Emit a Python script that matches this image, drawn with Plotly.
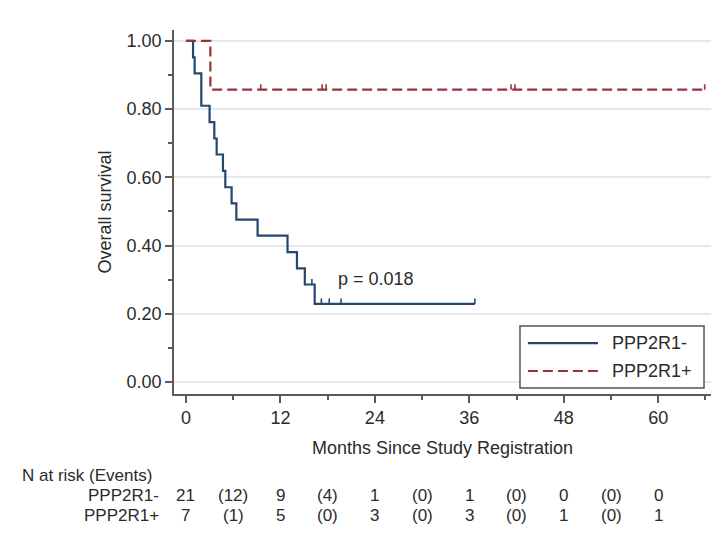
import plotly.graph_objects as go

# ---- data ----
neg_name = "PPP2R1-"
pos_name = "PPP2R1+"

# Kaplan-Meier step points (month, survival after step)
neg_times = [0, 0.9, 1.1, 1.95, 3.0, 3.6, 3.9, 4.7, 5.0, 5.8, 6.4, 9.1, 12.9, 14.1, 15.1, 16.35, 36.7]
neg_surv = [1.0, 0.952, 0.905, 0.810, 0.762, 0.714, 0.667, 0.619, 0.571, 0.524, 0.476, 0.429, 0.381, 0.333, 0.286, 0.229, 0.229]
neg_censor_t = [16.0, 17.2, 18.2, 19.7, 36.7]
neg_censor_s = [0.286, 0.229, 0.229, 0.229, 0.229]

pos_times = [0, 3.1, 65.9]
pos_surv = [1.0, 0.857, 0.857]
pos_censor_t = [9.5, 17.3, 17.8, 41.3, 41.8, 65.9]
pos_censor_s = [0.857, 0.857, 0.857, 0.857, 0.857, 0.857]

# number at risk table
risk_months = [0, 12, 24, 36, 48, 60]
event_months = [6, 18, 30, 42, 54]
neg_at_risk = [21, 9, 1, 1, 0, 0]
neg_events = [12, 4, 0, 0, 0]
pos_at_risk = [7, 5, 3, 3, 1, 1]
pos_events = [1, 0, 0, 0, 0]

p_text = "p = 0.018"
x_ticks = [0, 12, 24, 36, 48, 60]
y_ticks = [0.0, 0.2, 0.4, 0.6, 0.8, 1.0]

# ---- styling ----
BLUE = "#24476f"
RED = "#9b3039"
TXT = "#2b2b2b"
AX = "#5a5a5a"
FONT = "Liberation Sans, Arial, sans-serif"
FS = 18
FS_TAB = 17
CENSOR_H = 0.016
DASH = "10px,5px"

fig = go.Figure()

fig.add_trace(go.Scatter(
    x=neg_times, y=neg_surv, mode="lines", line_shape="hv",
    line=dict(color=BLUE, width=2.2), name=neg_name, showlegend=False))
fig.add_trace(go.Scatter(
    x=neg_censor_t, y=neg_censor_s, mode="markers",
    marker=dict(size=1, color="rgba(0,0,0,0)"),
    error_y=dict(type="data", symmetric=False, array=[CENSOR_H] * len(neg_censor_t),
                 arrayminus=[0] * len(neg_censor_t), width=0, thickness=1.6, color=BLUE),
    showlegend=False, hoverinfo="skip"))

fig.add_trace(go.Scatter(
    x=pos_times, y=pos_surv, mode="lines", line_shape="hv",
    line=dict(color=RED, width=2.2, dash=DASH), name=pos_name, showlegend=False))
fig.add_trace(go.Scatter(
    x=pos_censor_t, y=pos_censor_s, mode="markers",
    marker=dict(size=1, color="rgba(0,0,0,0)"),
    error_y=dict(type="data", symmetric=False, array=[CENSOR_H] * len(pos_censor_t),
                 arrayminus=[0] * len(pos_censor_t), width=0, thickness=1.6, color=RED),
    showlegend=False, hoverinfo="skip"))

annotations = []
# p value
annotations.append(dict(x=19.1, y=0.302, xref="x", yref="y", text=p_text, showarrow=False,
                        xanchor="left", yanchor="middle", font=dict(size=FS, color=TXT, family=FONT)))

# Number at risk table (paper y = (386 - pixel_y) / 364)
ROW_HDR = -0.223
ROW_NEG = -0.280
ROW_POS = -0.335
annotations.append(dict(x=-0.287, y=ROW_HDR, xref="paper", yref="paper", text="N at risk (Events)",
                        showarrow=False, xanchor="left", yanchor="middle",
                        font=dict(size=FS_TAB, color=TXT, family=FONT)))
for name, yy in [(neg_name, ROW_NEG), (pos_name, ROW_POS)]:
    annotations.append(dict(x=-0.024, y=yy, xref="paper", yref="paper", text=name,
                            showarrow=False, xanchor="right", yanchor="middle",
                            font=dict(size=FS_TAB, color=TXT, family=FONT)))
for rows, yy in [((neg_at_risk, neg_events), ROW_NEG), ((pos_at_risk, pos_events), ROW_POS)]:
    at_risk, events = rows
    for m, v in zip(risk_months, at_risk):
        annotations.append(dict(x=m, y=yy, xref="x", yref="paper", text=str(v), showarrow=False,
                                xanchor="center", yanchor="middle",
                                font=dict(size=FS_TAB, color=TXT, family=FONT)))
    for m, v in zip(event_months, events):
        annotations.append(dict(x=m, y=yy, xref="x", yref="paper", text=f"({v})", showarrow=False,
                                xanchor="center", yanchor="middle",
                                font=dict(size=FS_TAB, color=TXT, family=FONT)))

# custom legend
LX0, LX1 = 0.6443, 0.987
LY0, LY1 = 0.0165, 0.1868
shapes = [dict(type="rect", xref="paper", yref="paper", x0=LX0, x1=LX1, y0=LY0, y1=LY1,
               line=dict(color="#555555", width=1.5), fillcolor="white", layer="above")]
leg_items = [(neg_name, BLUE, "solid", 0.140), (pos_name, RED, DASH, 0.0632)]
for name, col, dash, yy in leg_items:
    shapes.append(dict(type="line", xref="paper", yref="paper", x0=0.659, x1=0.7896, y0=yy, y1=yy,
                       line=dict(color=col, width=2.2, dash=dash), layer="above"))
    annotations.append(dict(x=0.812, y=yy, xref="paper", yref="paper", text=name, showarrow=False,
                            xanchor="left", yanchor="middle",
                            font=dict(size=FS, color=TXT, family=FONT)))

fig.update_layout(
    width=722, height=541,
    margin=dict(l=166, r=19, t=22, b=155),
    paper_bgcolor="white", plot_bgcolor="white",
    font=dict(family=FONT, size=FS, color=TXT),
    showlegend=False,
    annotations=annotations,
    shapes=shapes,
)
fig.update_xaxes(
    range=[-1.52, 66.7], tickvals=x_ticks, ticktext=[str(t) for t in x_ticks],
    ticks="outside", ticklen=7, tickwidth=1.5, tickcolor=AX,
    showline=True, linecolor=AX, linewidth=1.5, showgrid=False, zeroline=False,
    minor=dict(dtick=6, tick0=0, ticks="outside", ticklen=4, tickwidth=1.5, tickcolor=AX, showgrid=False),
    title=dict(text="Months Since Study Registration", standoff=14,
               font=dict(size=FS, color=TXT, family=FONT)),
    tickfont=dict(size=FS, color=TXT, family=FONT),
)
fig.update_yaxes(
    range=[-0.035, 1.032], tickvals=y_ticks, tickformat=".2f",
    ticks="outside", ticklen=7, tickwidth=1.5, tickcolor=AX,
    showline=True, linecolor=AX, linewidth=1.5,
    showgrid=True, gridcolor="#e5e9ed", gridwidth=1.5, zeroline=False,
    minor=dict(dtick=0.1, tick0=0, ticks="outside", ticklen=4, tickwidth=1.5, tickcolor=AX, showgrid=False),
    title=dict(text="Overall survival", standoff=10, font=dict(size=FS, color=TXT, family=FONT)),
    tickfont=dict(size=FS, color=TXT, family=FONT),
)

fig.write_html("out.html")
